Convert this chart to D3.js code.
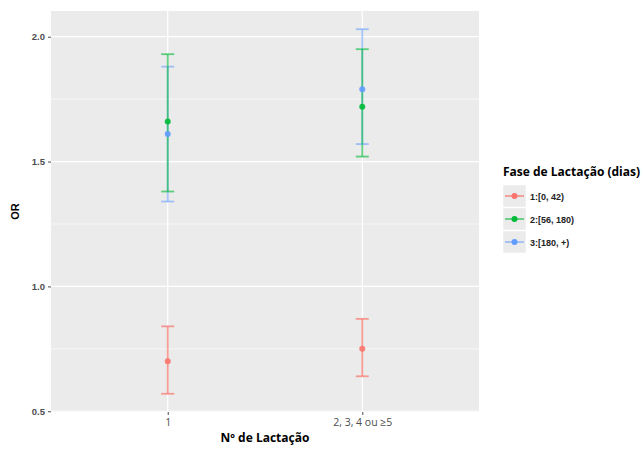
<!DOCTYPE html>
<html>
<head>
<meta charset="utf-8">
<script src="https://cdn.jsdelivr.net/npm/d3@7"></script>
<style>
  body { margin: 0; background: #fff; }
  text { font-family: "Liberation Sans", Arial, sans-serif; }
</style>
</head>
<body>
<div id="chart"></div>
<script>
// categories and series
var categories = ["1", "2, 3, 4 ou \u22655"];
var groups = ["1:[0, 42)", "2:[56, 180)", "3:[180, +)"];
var colors = ["#F8766D", "#00BA38", "#619CFF"];

// OR estimates and confidence limits, one array per group (per category)
var orPhase1 = [0.70, 0.75];
var lowPhase1 = [0.57, 0.64];
var highPhase1 = [0.84, 0.87];

var orPhase2 = [1.66, 1.72];
var lowPhase2 = [1.38, 1.52];
var highPhase2 = [1.93, 1.95];

var orPhase3 = [1.61, 1.79];
var lowPhase3 = [1.34, 1.57];
var highPhase3 = [1.88, 2.03];

var yTicks = [0.5, 1.0, 1.5, 2.0];
var yMinor = [0.75, 1.25, 1.75];

var width = 644, height = 449;
var margin = {top: 11, left: 51, right: 165, bottom: 37};

var svg = d3.select("#chart").append("svg")
  .attr("width", width)
  .attr("height", height);

var series = [
  {name: groups[0], color: colors[0], or: orPhase1, low: lowPhase1, high: highPhase1, alpha: 0.7},
  {name: groups[1], color: colors[1], or: orPhase2, low: lowPhase2, high: highPhase2, alpha: 0.6},
  {name: groups[2], color: colors[2], or: orPhase3, low: lowPhase3, high: highPhase3, alpha: 0.55}
];

var allVals = [];
series.forEach(function(s) { allVals = allVals.concat(s.low, s.high); });
var ymin = d3.min(allVals), ymax = d3.max(allVals);
var pad = (ymax - ymin) * 0.05;

var yScale = d3.scaleLinear()
  .domain([ymin - pad, ymax + pad])
  .range([height - margin.bottom, margin.top]);

var xScale = d3.scalePoint()
  .domain(categories)
  .range([margin.left, width - margin.right])
  .padding(0.6);

// panel
svg.append("rect")
  .attr("x", margin.left)
  .attr("y", margin.top)
  .attr("width", width - margin.right - margin.left)
  .attr("height", height - margin.bottom - margin.top)
  .style("fill", "#EBEBEB");

svg.selectAll(".minor").data(yMinor).enter().append("line")
  .attr("x1", margin.left).attr("x2", width - margin.right)
  .attr("y1", function(d) { return yScale(d); })
  .attr("y2", function(d) { return yScale(d); })
  .style("stroke", "#fff").style("stroke-width", 0.6);

svg.selectAll(".major").data(yTicks).enter().append("line")
  .attr("x1", margin.left).attr("x2", width - margin.right)
  .attr("y1", function(d) { return yScale(d); })
  .attr("y2", function(d) { return yScale(d); })
  .style("stroke", "#fff").style("stroke-width", 1.2);

svg.selectAll(".vmajor").data(categories).enter().append("line")
  .attr("y1", margin.top).attr("y2", height - margin.bottom)
  .attr("x1", function(d) { return xScale(d); })
  .attr("x2", function(d) { return xScale(d); })
  .style("stroke", "#fff").style("stroke-width", 1.2);

// axes
var yAxis = d3.axisLeft(yScale).tickValues(yTicks).tickSize(3).tickPadding(3)
  .tickFormat(d3.format(".1f"));
var yAxisGroup = svg.append("g")
  .attr("transform", "translate(" + margin.left + ",0)")
  .call(yAxis);
yAxisGroup.select(".domain").remove();
yAxisGroup.selectAll("line").style("stroke", "#4D4D4D");
yAxisGroup.selectAll("text")
  .style("fill", "#4D4D4D").style("font-size", "9.5px").style("font-weight", "bold");

var xAxis = d3.axisBottom(xScale).tickSize(3).tickPadding(4);
var xAxisGroup = svg.append("g")
  .attr("transform", "translate(0," + (height - margin.bottom) + ")")
  .call(xAxis);
xAxisGroup.select(".domain").remove();
xAxisGroup.selectAll("line").style("stroke", "#4D4D4D");
xAxisGroup.selectAll("text")
  .style("fill", "#4D4D4D").style("font-size", "10.5px")
  .style("font-family", "'Open Sans', sans-serif");

// axis titles
svg.append("text")
  .attr("transform", "translate(19," + ((margin.top + height - margin.bottom) / 2) + ") rotate(-90)")
  .attr("text-anchor", "middle")
  .style("font-size", "11px").style("font-weight", "bold")
  .text("OR");

svg.append("text")
  .attr("x", (margin.left + width - margin.right) / 2)
  .attr("y", 442)
  .attr("text-anchor", "middle")
  .style("font-family", "'Open Sans', sans-serif")
  .style("font-size", "12px").style("font-weight", "bold")
  .text("N\u00ba de Lacta\u00e7\u00e3o");

// error bars (green last so it sits on top, as in the reference), then points
var capHalf = 6.5;
var idx = d3.range(categories.length);
var drawOrder = [series[0], series[2], series[1]];
drawOrder.forEach(function(s) {
  var g = svg.append("g");
  g.selectAll(".v").data(idx).enter().append("line")
    .attr("x1", function(i) { return xScale(categories[i]); })
    .attr("x2", function(i) { return xScale(categories[i]); })
    .attr("y1", function(i) { return yScale(s.low[i]); })
    .attr("y2", function(i) { return yScale(s.high[i]); })
    .style("stroke", s.color).style("stroke-width", 1.8).style("opacity", s.alpha);
  ["low", "high"].forEach(function(k) {
    g.selectAll(".c" + k).data(idx).enter().append("line")
      .attr("x1", function(i) { return xScale(categories[i]) - capHalf; })
      .attr("x2", function(i) { return xScale(categories[i]) + capHalf; })
      .attr("y1", function(i) { return yScale(s[k][i]); })
      .attr("y2", function(i) { return yScale(s[k][i]); })
      .style("stroke", s.color).style("stroke-width", 1.8).style("opacity", s.alpha);
  });
});
series.forEach(function(s) {
  svg.append("g").selectAll("circle").data(idx).enter().append("circle")
    .attr("cx", function(i) { return xScale(categories[i]); })
    .attr("cy", function(i) { return yScale(s.or[i]); })
    .attr("r", 3)
    .style("fill", s.color).style("opacity", 0.9);
});

// legend
var lx = 503, ly = 172;
svg.append("text")
  .attr("x", lx).attr("y", ly + 4)
  .style("font-family", "'Open Sans', sans-serif")
  .style("font-size", "12px").style("font-weight", "bold")
  .text("Fase de Lacta\u00e7\u00e3o (dias)");

var legendRows = svg.selectAll(".leg").data(series).enter().append("g")
  .attr("transform", function(d, i) { return "translate(" + lx + "," + (185 + i * 23) + ")"; });
legendRows.append("rect")
  .attr("width", 23).attr("height", 22)
  .style("fill", "#EBEBEB").style("stroke", "#fff").style("stroke-width", 0.5);
legendRows.append("line")
  .attr("x1", 2).attr("x2", 21).attr("y1", 11).attr("y2", 11)
  .style("stroke", function(d) { return d.color; })
  .style("stroke-width", 1.8).style("opacity", function(d) { return d.alpha; });
legendRows.append("circle")
  .attr("cx", 11.5).attr("cy", 11).attr("r", 3)
  .style("fill", function(d) { return d.color; });
legendRows.append("text")
  .attr("x", 27).attr("y", 14.5)
  .style("font-size", "9px").style("font-weight", "bold").style("fill", "#222")
  .text(function(d) { return d.name; });
</script>
</body>
</html>
